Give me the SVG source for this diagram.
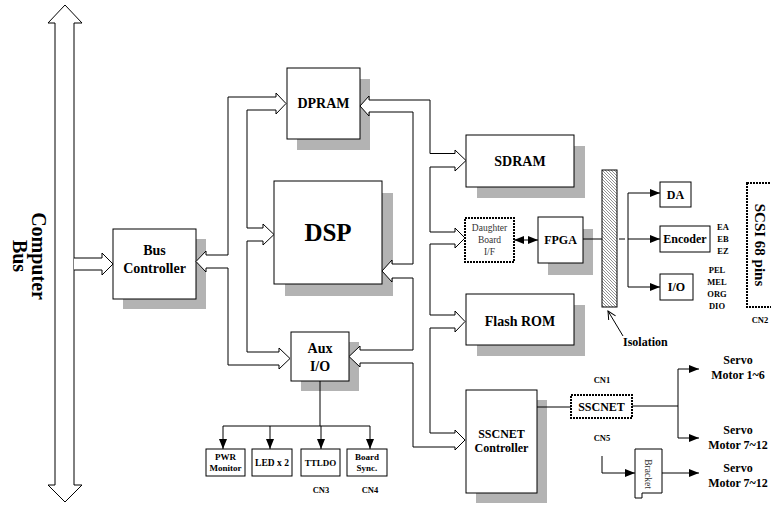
<svg xmlns="http://www.w3.org/2000/svg" width="771" height="505" viewBox="0 0 771 505">
<style>
.b{fill:#fff;stroke:#000;stroke-width:1}
.s{fill:#b3b3b3}
.d{fill:#fff;stroke:#000;stroke-width:2;stroke-dasharray:2 1}
.t{font-family:"Liberation Serif","Times New Roman",serif;font-weight:bold;text-anchor:middle;fill:#000}
.r{font-family:"Liberation Serif","Times New Roman",serif;text-anchor:middle;fill:#333}
.c{fill:#fff;stroke:#000;stroke-width:1}
.l{fill:none;stroke:#000;stroke-width:1}
.a{marker-end:url(#ah)}
</style>
<defs>
<marker id="ah" markerUnits="userSpaceOnUse" viewBox="0 0 10 8" markerWidth="10" markerHeight="8" refX="10" refY="4" orient="auto-start-reverse"><path d="M0,0L10,4L0,8z" fill="#000"/></marker>
<marker id="oa" markerUnits="userSpaceOnUse" viewBox="0 0 10 10" markerWidth="10" markerHeight="10" refX="9" refY="5" orient="auto"><path d="M1,1L9,5L1,9" fill="none" stroke="#000"/></marker>
<pattern id="hatch" patternUnits="userSpaceOnUse" width="3" height="3"><path d="M0,0L3,3M-1,2L1,4M2,-1L4,1" stroke="#777" stroke-width="0.8"/></pattern>
</defs>
<rect width="771" height="505" fill="#fff"/>

<g id="computer-bus">
<polygon class="c" points="65,5 82,23 74,23 74,485 82,485 65,502 48,485 55,485 55,23 48,23"/>
<text class="t" font-size="20" transform="translate(0,256) rotate(90)"><tspan x="0" y="-32">Computer</tspan><tspan x="0" y="-13">Bus</tspan></text>
</g>

<g id="bus-controller">
<rect class="s" x="123" y="239" width="83" height="70"/>
<rect class="b" x="113" y="229" width="83" height="70"/>
<text class="t" font-size="14" x="154.5" y="255">Bus</text>
<text class="t" font-size="14" x="154.5" y="273">Controller</text>
</g>

<g id="dpram">
<rect class="s" x="297" y="79" width="73" height="71"/>
<rect class="b" x="287" y="68" width="73" height="71"/>
<text class="t" font-size="14" x="323.5" y="108">DPRAM</text>
</g>

<g id="dsp">
<rect class="s" x="285" y="193" width="108" height="103"/>
<rect class="b" x="274" y="181" width="108" height="103"/>
<text class="t" font-size="25" x="328" y="241">DSP</text>
</g>

<g id="aux-io">
<rect class="s" x="301" y="342" width="58" height="49"/>
<rect class="b" x="291" y="332" width="58" height="49"/>
<text class="t" font-size="14" x="320" y="353">Aux</text>
<text class="t" font-size="14" x="320" y="371">I/O</text>
</g>

<g id="sdram">
<rect class="s" x="477" y="146" width="108" height="52"/>
<rect class="b" x="466" y="135" width="108" height="52"/>
<text class="t" font-size="14" x="520" y="166">SDRAM</text>
</g>

<g id="daughter-board">
<rect class="d" x="465" y="218" width="49" height="44"/>
<text class="r" font-size="9.5" x="489.5" y="231">Daughter</text>
<text class="r" font-size="9.5" x="489.5" y="243">Board</text>
<text class="r" font-size="9.5" x="489.5" y="255">I/F</text>
</g>

<g id="fpga">
<rect class="s" x="548" y="229" width="45" height="46"/>
<rect class="b" x="538" y="217" width="45" height="46"/>
<text class="t" font-size="12" x="560.5" y="244">FPGA</text>
</g>

<g id="flash-rom">
<rect class="s" x="477" y="305" width="108" height="51"/>
<rect class="b" x="466" y="294" width="108" height="51"/>
<text class="t" font-size="14" x="520" y="326">Flash ROM</text>
</g>

<g id="sscnet-controller">
<rect class="s" x="476" y="400" width="71" height="103"/>
<rect class="b" x="466" y="390" width="71" height="103"/>
<text class="t" font-size="12" x="501.5" y="438">SSCNET</text>
<text class="t" font-size="12" x="501.5" y="452">Controller</text>
</g>

<g id="isolation">
<rect x="602" y="170" width="15" height="137" fill="url(#hatch)" stroke="#000" stroke-width="1"/>
<text class="t" font-size="12" x="623" y="346" style="text-anchor:start">Isolation</text>
</g>

<g id="da">
<rect class="b" x="660" y="182" width="31" height="25"/>
<text class="t" font-size="12" x="675.5" y="199">DA</text>
</g>

<g id="encoder">
<rect class="b" x="660" y="226" width="50" height="26"/>
<text class="t" font-size="12" x="685" y="243">Encoder</text>
<text class="t" font-size="8.5" x="723" y="230">EA</text>
<text class="t" font-size="8.5" x="723" y="242">EB</text>
<text class="t" font-size="8.5" x="723" y="254">EZ</text>
</g>

<g id="io">
<rect class="b" x="660" y="274" width="33" height="26"/>
<text class="t" font-size="12" x="676.5" y="291">I/O</text>
<text class="t" font-size="8.5" x="717" y="273">PEL</text>
<text class="t" font-size="8.5" x="717" y="285">MEL</text>
<text class="t" font-size="8.5" x="717" y="297">ORG</text>
<text class="t" font-size="8.5" x="717" y="309">DIO</text>
</g>

<g id="scsi">
<rect class="d" x="747" y="183" width="30" height="124"/>
<text class="t" font-size="15" transform="translate(0,245) rotate(90)" x="0" y="-755">SCSI 68 pins</text>
<text class="t" font-size="8.5" x="760" y="323">CN2</text>
</g>

<g id="sscnet">
<rect class="d" x="571" y="395" width="61" height="23"/>
<text class="t" font-size="12" x="601.5" y="411">SSCNET</text>
<text class="t" font-size="8.5" x="602" y="383">CN1</text>
<text class="t" font-size="8.5" x="602" y="441">CN5</text>
</g>

<g id="bracket">
<polygon class="b" points="635,449 662,449 662,493 642,493 642,498 635,498"/>
<text class="r" font-size="9.5" transform="translate(0,474) rotate(90)" x="0" y="-645">Bracket</text>
</g>

<g id="servo-1-6"><text class="t" font-size="12" x="738" y="364">Servo</text><text class="t" font-size="12" x="738" y="379">Motor 1~6</text></g>
<g id="servo-7-12-a"><text class="t" font-size="12" x="738" y="434">Servo</text><text class="t" font-size="12" x="738" y="449">Motor 7~12</text></g>
<g id="servo-7-12-b"><text class="t" font-size="12" x="738" y="472">Servo</text><text class="t" font-size="12" x="738" y="487">Motor 7~12</text></g>

<g id="pwr-monitor">
<rect class="b" x="206" y="449" width="39" height="27"/>
<text class="t" font-size="9" x="225.5" y="460">PWR</text>
<text class="t" font-size="9" x="225.5" y="471">Monitor</text>
</g>
<g id="led">
<rect class="b" x="252" y="449" width="40" height="27"/>
<text class="t" font-size="9.5" x="272" y="466">LED x 2</text>
</g>
<g id="ttldo">
<rect class="b" x="301" y="449" width="39" height="27"/>
<text class="t" font-size="9" x="320.5" y="466">TTLDO</text>
<text class="t" font-size="8.5" x="321" y="493">CN3</text>
</g>
<g id="board-sync">
<rect class="b" x="347" y="449" width="40" height="27"/>
<text class="t" font-size="9" x="367" y="460">Board</text>
<text class="t" font-size="9" x="367" y="471">Sync.</text>
<text class="t" font-size="8.5" x="370" y="493">CN4</text>
</g>

<g id="connectors">
<path class="c" d="M74,258H102V253L113,264L102,275V270H74"/>
<path class="c" d="M228,97H276V93L286,103.5L276,114V110H247V228H263V224L274,234.5L263,245V241H247V352H279V348L290,358.5L279,369V365H228V268H206V272L196,261.5L206,251V255H228Z"/>
<path class="c" d="M369,100H430V153.5H455V150L466,160.5L455,171V167H430V232H455V228L465,238L455,248V244H430V315H455V311L465,321.5L455,332V328H430V433H455V430L465,440L455,450V447H413V363H360V367L349,356.5L360,346V350H413V278H392V282L382,271L392,260V264H413V112H369V116L360,106L369,96Z"/>
<path class="l" d="M320,381V426M223,426H370"/>
<path class="l a" d="M223,426V449"/>
<path class="l a" d="M270,426V449"/>
<path class="l a" d="M321,426V449"/>
<path class="l a" d="M370,426V449"/>
<path class="l" d="M514,240H538" marker-start="url(#ah)" marker-end="url(#ah)"/>
<path class="l" d="M583,239H602M619,239H625M628,193V287"/>
<path class="l a" d="M628,239H660"/>
<path class="l a" d="M628,193H660"/>
<path class="l a" d="M628,287H660"/>
<path class="l" d="M623,336L608,311" marker-end="url(#oa)"/>
<path class="l" d="M537,407H571M632,406H678M678,369V438"/>
<path class="l a" d="M678,369H699"/>
<path class="l a" d="M678,438H699"/>
<path class="l a" d="M602,456V473H635"/>
<path class="l a" d="M662,473H699"/>
</g>
</svg>
